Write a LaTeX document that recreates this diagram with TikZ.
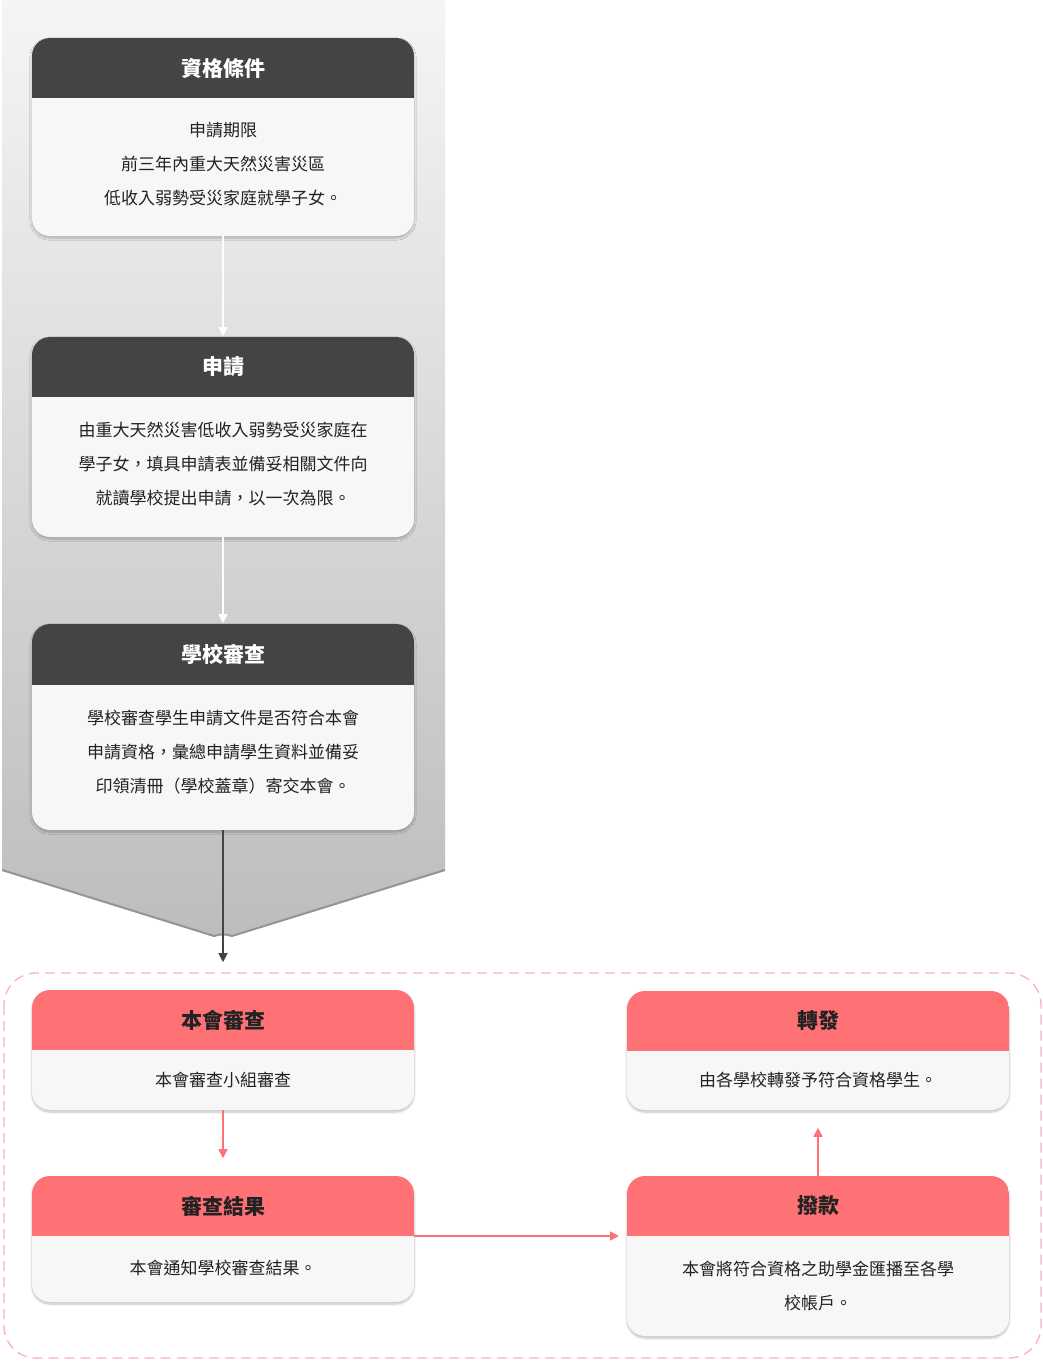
\documentclass[tikz,border=0pt]{standalone}
\usepackage{fontspec}
\setmainfont{Noto Sans CJK TC}
\usetikzlibrary{arrows.meta,shadows.blur}
\definecolor{hdgray}{HTML}{444444}
\definecolor{bodyc}{HTML}{F7F7F7}
\definecolor{redc}{HTML}{FE7275}
\definecolor{txt}{HTML}{222222}
\newcommand\mybox[9]{%
  \node[name=#1, minimum width=#4-#2, minimum height=#5-#3, inner sep=0pt, rounded corners=18, fill=bodyc,
        blur shadow={shadow blur steps=8, shadow xshift=0pt, shadow yshift=-2pt, shadow opacity=25, shadow blur extra rounding=6pt}]
        at ({(#2+#4)/2},{(#3+#5)/2}) {};
  \begin{scope}
    \clip[rounded corners=18] (#2,#3) rectangle (#4,#5);
    \fill[#7] (#2,#3) rectangle (#4,#6);
  \end{scope}
  \node[font=\fontsize{21}{24}\selectfont\bfseries, text=#8] (#1t) at ({(#2+#4)/2},{(#3+#6)/2}) {#9};
}
\newcommand\mybody[3]{\node[font=\fontsize{17}{34}\selectfont, text=txt, align=center] (#1) at (#2) {#3};}
\begin{document}
\begin{tikzpicture}[x=1pt,y=-1pt, >={Triangle[length=9pt,width=9pt]}]
\useasboundingbox (0,0) rectangle (1043,1362);
\shade[top color=white!96!black, bottom color=white!74!black, shading angle=0]
  (2,0) -- (445,0) -- (445,870) -- (232,936) to[out=162,in=18] (214,936) -- (2,870) -- cycle;
\draw[line width=2pt, white!58!black] (2,870) -- (214,936) to[out=18,in=162] (232,936) -- (445,870);
\draw[dashed, dash pattern=on 10pt off 6pt, redc!55, line width=1.3pt, rounded corners=32] (4,973) rectangle (1041,1358);

\mybox{b1}{32}{38}{414}{236}{98}{hdgray}{white}{資格條件}
\mybody{b1b}{223,164}{申請期限\\前三年內重大天然災害災區\\低收入弱勢受災家庭就學子女。}
\mybox{b2}{32}{337}{414}{537}{397}{hdgray}{white}{申請}
\mybody{b2b}{223,464}{由重大天然災害低收入弱勢受災家庭在\\學子女，填具申請表並備妥相關文件向\\就讀學校提出申請，以一次為限。}
\mybox{b3}{32}{624}{414}{830}{685}{hdgray}{white}{學校審查}
\mybody{b3b}{223,752}{學校審查學生申請文件是否符合本會\\申請資格，彙總申請學生資料並備妥\\印領清冊（學校蓋章）寄交本會。}

\mybox{r1}{32}{990}{414}{1110}{1050}{redc}{txt}{本會審查}
\mybody{r1b}{223,1080}{本會審查小組審查}
\mybox{r2}{32}{1176}{414}{1302}{1236}{redc}{txt}{審查結果}
\mybody{r2b}{223,1268}{本會通知學校審查結果。}
\mybox{r3}{627}{991}{1009}{1110}{1051}{redc}{txt}{轉發}
\mybody{r3b}{818,1080}{由各學校轉發予符合資格學生。}
\mybox{r4}{627}{1176}{1009}{1336}{1236}{redc}{txt}{撥款}
\mybody{r4b}{818,1286}{本會將符合資格之助學金匯播至各學\\校帳戶。}

\draw[->, white, line width=1.2pt] (b1.south) -- ([yshift=-100pt]b1.south);
\draw[->, white, line width=1.2pt] (b2.south) -- ([yshift=-86pt]b2.south);
\draw[->, hdgray, line width=1.2pt] (b3.south) -- ([yshift=-132pt]b3.south);
\draw[->, redc, line width=1.5pt] (r1.south) -- ([yshift=-48pt]r1.south);
\coordinate (hstart) at (414,1236);
\draw[->, redc, line width=1.5pt] (hstart) -- (619,1236);
\draw[->, redc, line width=1.5pt] (r4.north) -- ([yshift=48pt]r4.north);
\end{tikzpicture}
\end{document}
